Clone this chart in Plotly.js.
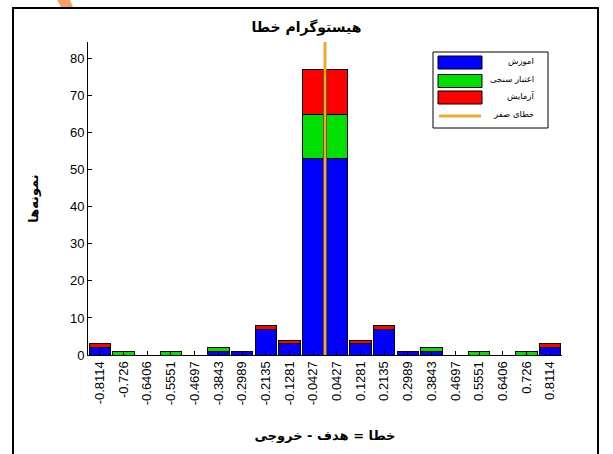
<!DOCTYPE html>
<html>
<head>
<meta charset="utf-8">
<script src="https://cdn.plot.ly/plotly-3.0.1.min.js"></script>
<style>
html,body{margin:0;padding:0;background:#fff;}
#chart{width:613px;height:454px;}
</style>
</head>
<body>
<div id="chart"></div>
<script>
// ---- data ----
const binCenters = [-0.8114, -0.726, -0.6406, -0.5551, -0.4697, -0.3843, -0.2989, -0.2135, -0.1281, -0.0427,
                    0.0427, 0.1281, 0.2135, 0.2989, 0.3843, 0.4697, 0.5551, 0.6406, 0.726, 0.8114];
const tickLabels = ["-0.8114","-0.726","-0.6406","-0.5551","-0.4697","-0.3843","-0.2989","-0.2135","-0.1281","-0.0427",
                    "0.0427","0.1281","0.2135","0.2989","0.3843","0.4697","0.5551","0.6406","0.726","0.8114"];
const trainCounts = [2, 0, 0, 0, 0, 1, 1, 7, 3, 53, 53, 3, 7, 1, 1, 0, 0, 0, 0, 2];
const validationCounts = [0, 1, 0, 1, 0, 1, 0, 0, 0, 12, 12, 0, 0, 0, 1, 0, 1, 0, 1, 0];
const testCounts = [1, 0, 0, 0, 0, 0, 0, 1, 1, 12, 12, 1, 1, 0, 0, 0, 0, 0, 0, 1];
const zeroErrorX = [0, 0];
const zeroErrorY = [0, 84.5];
const seriesNames = ["اموزش", "اعتبار سنجی", "آزمایش", "خطای صفر"];
const yTicks = [0, 10, 20, 30, 40, 50, 60, 70, 80];
const chartTitle = "هیستوگرام خطا";
const xTitle = "خطا = هدف - خروجی";
const yTitle = "نمونه‌ها";

// ---- styling ----
const colors = ["#0000FF", "#00E000", "#FF0000", "#EDA830"];
const binWidth = 0.0854;
const L = 88, R = 51, T = 42, B = 99, W = 613, H = 454;
const pw = W - L - R, ph = H - T - B;
const px = x => (x - L) / pw;
const py = y => 1 - (y - T) / ph;

function barTrace(vals, i) {
  return {
    type: "bar", x: binCenters, y: vals, name: seriesNames[i],
    width: binWidth * 0.9,
    marker: {color: colors[i], line: {color: "#000", width: 1}},
    showlegend: false, hoverinfo: "x+y+name"
  };
}

const traces = [
  barTrace(trainCounts, 0),
  barTrace(validationCounts, 1),
  barTrace(testCounts, 2),
  {type: "scatter", mode: "lines", x: zeroErrorX, y: zeroErrorY, name: seriesNames[3],
   line: {color: colors[3], width: 3}, showlegend: false}
];

// custom legend (MATLAB style)
const shapes = [
  {type: "rect", xref: "paper", yref: "paper", x0: px(13), x1: px(598), y0: py(8), y1: py(470),
   line: {color: "#000", width: 2}, fillcolor: "rgba(0,0,0,0)", layer: "below"},
  {type: "path", xref: "paper", yref: "paper",
   path: `M ${px(56)} ${py(-2)} L ${px(69)} ${py(-2)} L ${px(73)} ${py(7)} L ${px(61)} ${py(7)} Z`,
   fillcolor: "#F7A066", line: {width: 0}, layer: "below"},
  {type: "rect", xref: "paper", yref: "paper", x0: px(433), x1: px(548), y0: py(52), y1: py(128),
   line: {color: "#000", width: 1}, fillcolor: "#fff"}
];
const annotations = [];
const rows = [62.5, 81, 97.5, 116];
for (let i = 0; i < 4; i++) {
  if (i < 3) {
    shapes.push({type: "rect", xref: "paper", yref: "paper", x0: px(438), x1: px(482),
      y0: py(rows[i] - 6.5), y1: py(rows[i] + 6.5), fillcolor: colors[i], line: {color: "#000", width: 1}});
  } else {
    shapes.push({type: "line", xref: "paper", yref: "paper", x0: px(439), x1: px(481),
      y0: py(rows[i]), y1: py(rows[i]), line: {color: colors[3], width: 3}});
  }
  annotations.push({xref: "paper", yref: "paper", x: px(536), y: py(rows[i] - 2), xanchor: "right", yanchor: "middle",
    text: seriesNames[i], showarrow: false, font: {family: "DejaVu Sans", size: 8.5, color: "#000"}});
}

const layout = {
  width: W, height: H,
  margin: {l: L, r: R, t: T, b: B, pad: 0},
  paper_bgcolor: "#fff", plot_bgcolor: "#fff",
  barmode: "stack",
  showlegend: false,
  title: {text: "<b>" + chartTitle + "</b>", x: px(325), xanchor: "center", y: 1 - 27 / H, yanchor: "middle",
          font: {family: "DejaVu Sans", size: 14, color: "#000"}},
  xaxis: {
    range: [-0.8541, 0.8541], tickvals: binCenters, ticktext: tickLabels, tickangle: -90,
    ticks: "inside", ticklen: 4, tickcolor: "#000", showline: true, linecolor: "#000", linewidth: 1,
    showgrid: false, zeroline: false,
    tickfont: {family: "Liberation Sans, Arial", size: 13, color: "#000"},
    title: {text: "<b>" + xTitle + "</b>", standoff: 26, font: {family: "DejaVu Sans", size: 13, color: "#000"}}
  },
  yaxis: {
    range: [0, 84.5], tickvals: yTicks,
    ticks: "inside", ticklen: 4, tickcolor: "#000", showline: true, linecolor: "#000", linewidth: 1,
    showgrid: false, zeroline: false,
    tickfont: {family: "Liberation Sans, Arial", size: 13, color: "#000"},
    title: {text: "<b>" + yTitle + "</b>", standoff: 28, font: {family: "DejaVu Sans", size: 13, color: "#000"}}
  },
  shapes: shapes,
  annotations: annotations
};

Plotly.newPlot("chart", traces, layout, {displayModeBar: false, staticPlot: true});
</script>
</body>
</html>
